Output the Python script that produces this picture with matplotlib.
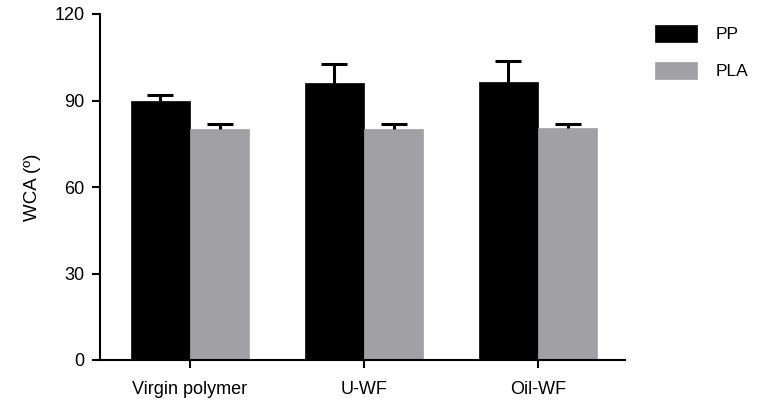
import numpy as np
import matplotlib
matplotlib.use("Agg")
import matplotlib.pyplot as plt

plt.rcParams['font.family'] = ['Liberation Sans', 'DejaVu Sans']

categories = ["Virgin polymer", "U-WF", "Oil-WF"]
series = ["PP", "PLA"]
pp_mean = [90.0, 95.9, 96.4]
pp_err = [1.8, 6.6, 7.3]
pla_mean = [80.1, 80.0, 80.3]
pla_err = [1.8, 1.9, 1.5]
y_ticks = [0, 30, 60, 90, 120]

colors = {"PP": "#000000", "PLA": "#A1A0A4"}

fig = plt.figure(figsize=(7.61, 4.03), dpi=100)
ax = fig.add_axes([100 / 761, 1 - 360 / 403, 525 / 761, 346 / 403])

x = np.arange(len(categories))
width = 0.34

for offset, name, means, errs in [(-width / 2, "PP", pp_mean, pp_err),
                                  (width / 2, "PLA", pla_mean, pla_err)]:
    xs = x + offset
    ax.bar(xs, means, width=width, color=colors[name], edgecolor=colors[name],
           linewidth=0.5, label=name, zorder=2)
    means = np.asarray(means)
    errs = np.asarray(errs)
    _, caps, _ = ax.errorbar(xs, means, yerr=[np.zeros_like(errs), errs],
                             fmt='none', ecolor='black', elinewidth=2.2,
                             capsize=9.5, capthick=2.2, zorder=3)
    # one-sided bars: hide the cap that sits on the bar top
    for cap in caps:
        if np.allclose(cap.get_ydata(), means):
            cap.set_visible(False)

ax.set_xlim(-0.517, 2.5)
ax.set_ylim(0, 120)
ax.set_yticks(y_ticks)
ax.set_xticks(x)
ax.set_xticklabels(categories)
ax.set_ylabel("WCA (º)", fontsize=13.5, labelpad=10)

for side in ("top", "right"):
    ax.spines[side].set_visible(False)
for side in ("left", "bottom"):
    ax.spines[side].set_linewidth(1.5)
ax.tick_params(axis='both', width=1.5, length=6, labelsize=13, pad=5)
ax.tick_params(axis='x', pad=9)

ax.legend(loc='upper left', bbox_to_anchor=(655 / 761, 1 - 25 / 403),
          bbox_transform=fig.transFigure, frameon=False, fontsize=12.5,
          handlelength=2.4, handleheight=1.15, handletextpad=1.1,
          labelspacing=1.1, borderpad=0, borderaxespad=0)

fig.savefig("out.png", dpi=100)
